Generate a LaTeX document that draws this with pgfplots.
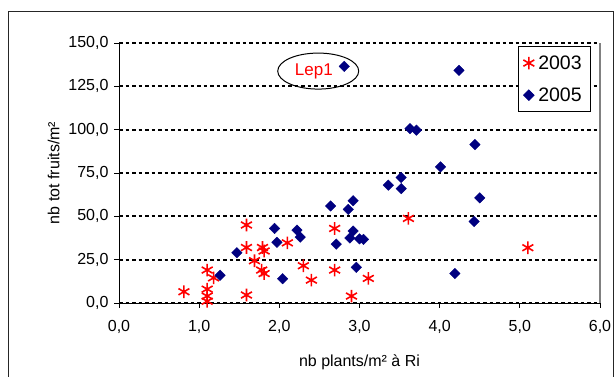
\documentclass[border=0pt]{standalone}
\usepackage{pgfplots}
\pgfplotsset{compat=1.18}
\usepackage{fontspec}
\setmainfont{Liberation Sans}
\definecolor{navyb}{RGB}{0,0,128}
\begin{document}
\begin{tikzpicture}[x=1pt,y=1pt]
\useasboundingbox (0,0) rectangle (616,377);
\draw[line width=1pt,black!85] (8,-2) -- (8,365) -- (613,365) -- (613,-2);
\begin{axis}[
  at={(119pt,74pt)}, anchor=south west,
  scale only axis, width=481pt, height=260pt,
  xmin=0, xmax=6, ymin=0, ymax=150,
  xtick={0,1,...,6}, ytick={0,25,...,150},
  axis x line*=bottom, axis y line*=left,
  axis line style={black, line width=0.9pt, -},
  tick align=outside, major tick length=5pt,
  tick style={black, line width=0.8pt},
  ymajorgrids,
  major grid style={black, line width=2pt, dash pattern=on 3.5pt off 3pt},
  /pgf/number format/assume math mode=true,
  /pgf/number format/.cd, fixed, fixed zerofill, precision=1, use comma,
  /pgfplots/.cd,
  ticklabel style={font=\fontsize{16}{18}\selectfont},
  xticklabel style={yshift=-9pt},
  yticklabel style={xshift=-2pt},
  xlabel={nb plants/m² à Ri},
  ylabel={nb tot fruits/m²},
  label style={font=\fontsize{16}{18}\selectfont},
  xlabel style={yshift=-14pt},
  ylabel style={yshift=2pt},
  legend style={at={(0.8295,0.988)}, anchor=north west, draw=black, line width=0.8pt,
    fill=white, font=\fontsize{19.5}{22}\selectfont, row sep=13pt, inner xsep=5pt, inner ysep=7pt,
    cells={anchor=west}, nodes={inner xsep=4pt}},
  legend cell align=left,
  clip=false,
]
\draw[gray, line width=1.5pt] (rel axis cs:1,0) -- (rel axis cs:1,1);
\addplot[only marks, mark=asterisk, mark size=6.3pt, red, line width=1.6pt] coordinates {
(0.81,6.5) (1.10,19) (1.10,8) (1.10,4) (1.10,1) (1.18,14.5)
(1.59,45) (1.59,32) (1.59,4.6) (1.69,24.4) (1.79,32) (1.81,30)
(1.78,19) (1.81,17) (2.10,34.7) (2.30,21.5) (2.40,13.2)
(2.69,43) (2.69,19) (2.90,4) (3.11,14.2) (3.61,48.8) (5.10,31.9)
};
\addlegendentry{2003}
\addplot[only marks, mark=square*, mark size=3.7pt, mark options={rotate=45, fill=navyb, draw=navyb}, navyb] coordinates {
(1.26,16) (1.47,29) (1.94,43) (1.97,35) (2.04,14) (2.22,42) (2.26,38)
(2.64,56) (2.71,34) (2.81,136.5) (2.86,54) (2.92,59) (2.92,41.5)
(2.88,37.5) (3.00,37) (3.05,36.7) (2.96,20.6) (3.36,68) (3.52,72.4)
(3.52,66) (3.63,100.6) (3.71,99.7) (4.01,78.5) (4.19,17) (4.24,134.2)
(4.43,47) (4.44,91.4) (4.50,60.7)
};
\addlegendentry{2005}
\draw[black, line width=1pt] (axis cs:2.485,133.8) ellipse [x radius=40.5pt, y radius=18pt];
\node[red, font=\fontsize{17}{20}\selectfont] at (axis cs:2.43,133.8) {Lep1};
\end{axis}
\end{tikzpicture}
\end{document}
